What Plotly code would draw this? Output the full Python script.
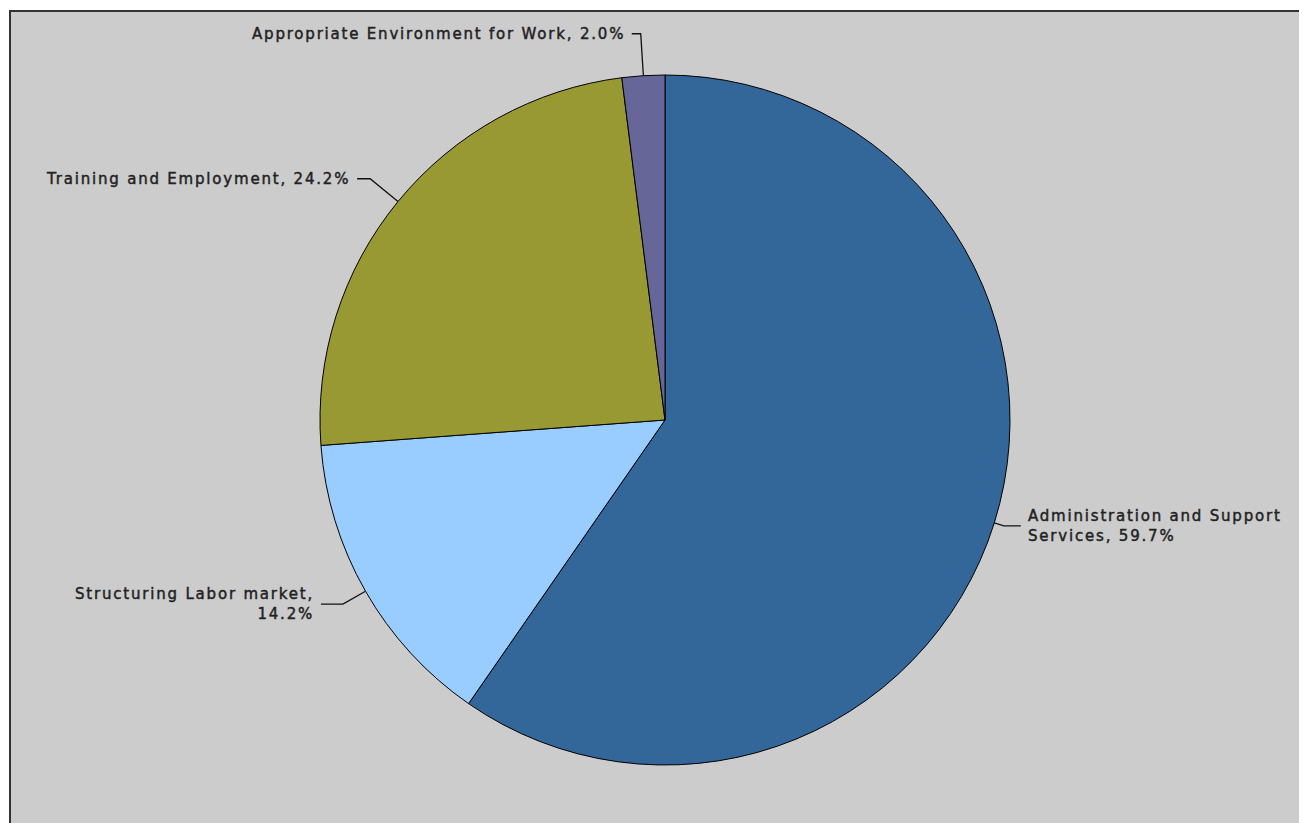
import math
import plotly.graph_objects as go

# ---------------- data ----------------
categories = [
    "Administration and Support Services",
    "Structuring Labor market",
    "Training and Employment",
    "Appropriate Environment for Work",
]
shares = [59.7, 14.2, 24.2, 2.0]
label_lines = [
    ["Administration and Support", "Services, 59.7%"],
    ["Structuring Labor market,", "14.2%"],
    ["Training and Employment, 24.2%"],
    ["Appropriate Environment for Work, 2.0%"],
]
colors = ["#336699", "#99ccff", "#999933", "#666699"]

# ---------------- layout geometry (page pixels) ----------------
W, H = 1307, 823
OFF = 8                       # default body margin of the html page
LEFT, TOP = 10, 11            # frame origin
CX, CY, R = 665, 420, 345     # pie centre and radius
link_dist = [10, 26, 36, 42]  # radial leader length per label
horiz_len = [17, 22, 13, 9]   # horizontal leader length per label
GAP = 5
TEXT_STYLE = "letter-spacing:1.8px;stroke:#222222;stroke-width:0.45px"

plot_w = W - LEFT
plot_h = H - TOP
xc = (CX - LEFT) / plot_w
yc = (H - CY) / plot_h
half_h = R / plot_h
half_w = R / plot_w * 1.3

fig = go.Figure()

fig.add_trace(go.Pie(
    labels=categories,
    values=shares,
    sort=False,
    direction="clockwise",
    rotation=0,
    marker=dict(colors=colors, line=dict(color="#000000", width=1)),
    textinfo="none",
    hoverinfo="skip",
    showlegend=False,
    domain=dict(x=[xc - half_w, xc + half_w], y=[yc - half_h, yc + half_h]),
))

total = sum(shares)
cum = 0.0
annotations = []
for i, v in enumerate(shares):
    mid = (cum + v / 2) / total
    cum += v
    th = 2 * math.pi * mid
    ux, uy = math.sin(th), -math.cos(th)
    ex, ey = CX + R * ux, CY + R * uy
    lx, ly = CX + (R + link_dist[i]) * ux, CY + (R + link_dist[i]) * uy
    side = 1 if ux > 0 else -1
    hx = lx + side * horiz_len[i]
    fig.add_trace(go.Scatter(
        x=[ex, lx, hx], y=[ey, ly, ly], mode="lines",
        line=dict(color="#111111", width=1.3),
        hoverinfo="skip", showlegend=False,
    ))
    text = "<br>".join(f'<span style="{TEXT_STYLE}">{s}</span>' for s in label_lines[i])
    annotations.append(dict(
        x=hx + side * GAP, y=ly, xref="x", yref="y",
        text=text, showarrow=False,
        xanchor="left" if side > 0 else "right", yanchor="middle",
        align="left" if side > 0 else "right",
        font=dict(family="DejaVu Sans", size=15, color="#222222"),
    ))

fig.update_layout(
    width=W - OFF, height=H - OFF,
    margin=dict(l=LEFT - OFF, t=TOP - OFF, r=0, b=0),
    paper_bgcolor="#ffffff",
    plot_bgcolor="#cccccc",
    xaxis=dict(range=[LEFT, W], visible=False, fixedrange=True),
    yaxis=dict(range=[H, TOP], visible=False, fixedrange=True),
    annotations=annotations,
    shapes=[dict(type="rect", xref="paper", yref="paper",
                 x0=0, x1=1.05, y0=-0.05, y1=1,
                 line=dict(color="#333333", width=2), layer="above")],
    showlegend=False,
)

fig.write_html("out.html", config={"displayModeBar": False})
